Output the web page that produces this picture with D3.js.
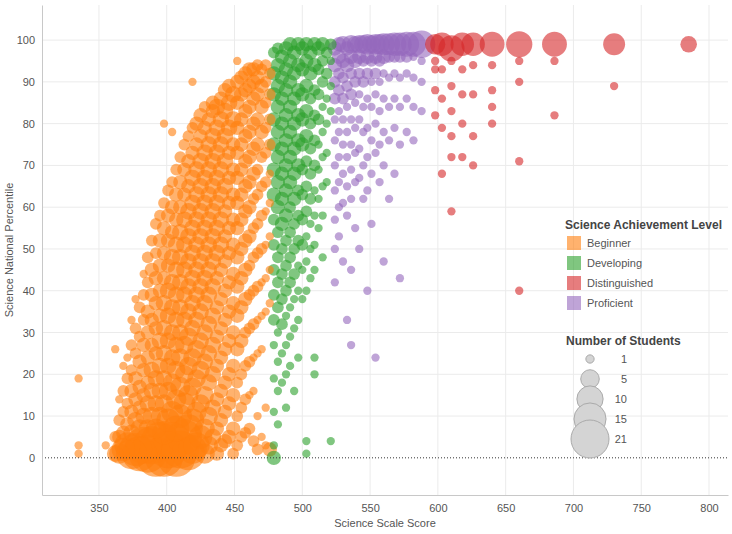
<!DOCTYPE html>
<html>
<head>
<meta charset="utf-8">
<script src="https://cdn.jsdelivr.net/npm/d3@7"></script>
<style>
  body { margin: 0; background: #fff; font-family: "Liberation Sans", Arial, sans-serif; }
</style>
</head>
<body>
<div id="chart"></div>
<script>
// data: "score|percentile:students ..."
var beginner = [
  "335|19:1 3:1 1:1", "355|3:1", "362|26:1 5:2 1:4",
  "365|14:1 9:2 5:3 1:6", "368|22:1 16:2 11:2 6:3 2:8", "371|24:1 19:2 13:2 8:3 3:10",
  "374|33:1 27:2 21:2 16:3 11:3 6:4 1:14", "377|38:1 31:2 25:2 19:3 14:3 9:4 2:16",
  "380|36:2 29:2 23:3 17:3 12:3 7:5 1:18", "383|44:1 39:2 33:2 27:3 21:3 15:3 10:4 3:20",
  "386|48:2 42:2 35:3 30:3 24:3 18:3 13:4 7:5 1:21",
  "389|52:2 45:3 39:3 33:3 27:3 21:4 16:4 10:5 3:21",
  "392|56:2 49:2 43:3 37:3 31:3 25:3 19:4 13:4 7:6 0:21",
  "395|58:2 52:3 46:3 40:3 34:3 28:4 22:4 16:4 10:5 4:21",
  "398|80:1 61:2 55:3 49:3 43:3 37:4 31:4 25:4 19:4 13:5 6:8 0:21",
  "401|64:2 58:3 52:3 46:3 40:4 34:4 28:4 22:4 16:5 9:8 2:21",
  "404|78:1 66:2 60:3 54:3 48:4 42:4 36:4 30:4 24:4 18:5 11:7 4:21",
  "407|69:2 63:3 57:3 51:4 45:4 39:4 33:4 27:4 21:5 14:6 7:10 0:21",
  "410|72:2 66:3 60:3 54:4 48:4 42:4 36:4 30:4 24:5 17:6 10:8 2:21",
  "413|75:2 69:3 63:3 57:4 51:4 45:4 39:4 33:4 27:5 20:5 13:7 5:18",
  "416|77:2 71:3 65:3 59:4 53:4 47:4 41:4 35:4 29:5 22:5 15:6 7:12 1:16",
  "419|90:1 79:2 73:3 67:4 61:4 55:4 49:4 43:4 37:4 31:4 24:5 17:5 9:8 2:12",
  "422|80:3 75:3 69:4 63:4 57:4 51:4 45:4 39:4 33:4 26:5 19:5 11:6 3:10",
  "425|82:3 77:3 71:4 65:4 59:4 53:4 47:4 41:4 35:4 28:4 21:5 13:5 5:8",
  "428|84:2 79:3 73:4 67:4 61:4 55:4 49:4 43:4 37:4 30:4 23:4 15:5 7:6 1:6",
  "431|81:3 75:4 69:4 63:4 57:4 51:4 45:4 39:4 32:4 25:4 18:4 10:5 3:5",
  "434|85:3 83:3 77:4 71:4 65:4 59:4 53:4 47:4 41:4 34:4 27:4 20:4 12:4 5:4",
  "437|84:4 79:4 73:4 67:4 61:4 55:4 49:4 43:3 36:3 29:3 22:3 14:3 7:3 1:3",
  "440|86:3 81:4 75:4 69:4 63:4 57:4 51:4 45:3 38:3 31:3 24:3 16:3 9:3 3:3",
  "443|88:3 83:4 77:4 71:4 65:4 59:3 53:3 47:3 40:3 33:3 26:3 18:3 11:3 4:3",
  "446|89:3 85:4 79:4 73:3 67:3 61:3 55:3 49:3 42:3 35:3 28:3 20:3 13:3 5:3",
  "449|87:4 81:4 75:3 69:3 63:3 57:3 51:3 44:3 37:3 30:3 22:3 15:3 7:3 1:2",
  "452|95:1 90:3 85:3 79:3 73:3 67:3 61:3 55:3 48:3 41:3 34:3 26:3 18:2 10:2 3:2",
  "455|91:3 87:3 81:3 75:3 69:3 63:3 57:3 50:3 43:3 36:3 28:3 20:2 12:2 5:2",
  "458|92:3 88:3 83:3 77:3 71:3 65:3 59:3 52:3 45:3 38:3 30:2 22:2 14:2 6:2",
  "461|93:3 89:3 84:3 78:3 72:3 66:3 60:3 53:3 46:2 39:2 31:2 23:2 15:1 7:2",
  "464|93:3 90:3 86:3 80:3 74:3 68:3 62:2 55:2 48:2 40:2 32:2 24:1 16:1 4:2",
  "467|94:2 91:3 87:3 81:3 75:3 69:2 63:2 56:2 49:2 41:2 33:1 25:1 10:1 2:2",
  "470|93:2 89:3 84:3 78:3 72:2 65:2 58:2 50:2 42:1 34:1 26:1 5:1",
  "473|94:2 90:2 85:2 79:2 73:2 66:2 59:1 51:1 43:1 35:1 12:1 3:1",
  "476|92:2 87:2 81:2 75:2 68:1 61:1 53:1 45:1 37:1 2:3"
];
var developing = [
  "479|97:2 92:3 87:3 81:3 75:3 69:3 63:3 57:2 51:2 45:2 39:2 33:2 27:1 19:1 11:1 3:1 0:3",
  "482|98:2 94:3 89:3 84:3 78:3 72:3 66:3 60:3 54:2 48:2 42:2 36:2 30:1 23:1 16:1 8:1",
  "485|96:3 91:3 86:3 80:3 74:3 68:3 62:3 56:3 50:2 44:2 38:2 32:2 25:1 18:1",
  "488|98:3 93:3 88:3 82:3 76:3 70:3 64:3 58:3 52:2 46:2 40:2 34:1 27:1 20:1 12:1",
  "491|99:3 95:3 90:3 84:3 78:3 72:3 66:3 60:2 54:2 48:2 42:2 36:1 29:1 22:1",
  "494|97:3 92:3 86:3 80:3 74:3 68:3 62:3 56:2 50:2 44:2 38:1 31:1 16:1",
  "497|99:3 94:3 88:3 82:3 76:3 70:3 64:2 58:2 52:2 46:1 40:1 33:1 24:1",
  "500|98:3 93:3 87:3 81:3 75:3 69:2 63:2 57:2 51:2 45:1 38:1",
  "503|99:3 95:3 89:3 83:3 77:3 71:2 65:2 59:2 53:1 47:1 40:1 4:1 1:1",
  "506|97:3 92:3 86:2 80:2 74:2 68:2 62:2 56:1 50:1 43:1",
  "509|99:3 94:3 88:2 82:2 76:2 70:2 64:1 58:1 51:1 45:1 24:1 20:1",
  "512|98:3 93:2 87:2 81:2 75:1 69:1 62:1 55:1",
  "515|99:3 95:2 90:2 84:1 78:1 72:1 65:1 58:1 48:1",
  "518|97:2 92:2 86:1 80:1 73:1 66:1",
  "521|99:2 95:1 89:1 83:1 4:1"
];
var proficient = [
  "524|98:3 94:3 90:2 86:2 81:1 76:1 70:1 64:1 57:1 50:1 42:1",
  "527|99:3 96:3 92:2 88:2 83:1 78:1 72:1 66:1 60:1 53:1",
  "530|99:4 95:3 91:2 86:2 81:1 75:1 68:1 61:1 47:1",
  "533|98:3 94:3 89:2 84:1 78:1 72:1 65:1 58:1 33:1",
  "536|99:5 96:3 92:2 87:2 81:1 75:1 69:1 62:1 45:1 27:1",
  "539|99:4 95:3 90:2 85:1 79:1 73:1 66:1 55:1",
  "542|99:5 96:3 92:2 87:1 81:1 74:1 67:1 50:1",
  "545|99:5 95:2 90:2 84:1 78:1 70:1 62:1",
  "548|99:6 96:3 92:2 86:1 79:1 72:1 64:1 40:1",
  "551|99:5 95:2 90:1 84:1 76:1 68:1 56:1",
  "554|99:6 96:3 92:2 87:1 80:1 73:1 24:1",
  "557|99:6 95:2 90:1 83:1 75:1 66:1",
  "560|99:7 96:3 92:1 86:1 78:1 70:1 47:1",
  "564|99:7 96:2 91:1 84:1 76:1 62:1",
  "568|99:8 96:2 92:1 86:1 79:1 68:1",
  "572|99:8 96:2 91:1 84:1 75:1 43:1",
  "577|99:9 96:2 92:1 86:1 78:1",
  "582|99:9 96:1 91:1 84:1 76:1",
  "588|99:11 95:1 90:1 83:1"
];
var distinguished = [
  "598|99:6 95:1 93:1 88:1 82:1", "603|99:8 93:1 86:1 79:1 68:1",
  "610|98:10 95:1 89:1 83:1 77:1 72:1 59:1", "618|99:8 93:1 87:1 80:1 72:1",
  "626|99:8 94:1 87:1 77:1 70:1", "640|99:9 94:1 88:1 84:1 80:1",
  "660|99:10 95:1 90:1 71:1 40:1", "686|99:9 95:1 82:1", "730|99:7 89:1", "785|99:4"
];
var levels = ["Beginner", "Developing", "Distinguished", "Proficient"];
var levelColors = ["#ff7f0e", "#2ca02c", "#d62728", "#9467bd"];
var xTicks = [350, 400, 450, 500, 550, 600, 650, 700, 750, 800];
var yTicks = [0, 10, 20, 30, 40, 50, 60, 70, 80, 90, 100];
var sizeLegend = [1, 5, 10, 15, 21];

function parse(rows, level) {
  var out = [];
  rows.forEach(function(r) {
    var p = r.split("|"), x = +p[0];
    p[1].split(" ").forEach(function(s) {
      var q = s.split(":");
      out.push({ score: x, pct: +q[0], n: +q[1], level: level });
    });
  });
  return out;
}

function init() {
  var points = [].concat(parse(beginner, "Beginner"), parse(developing, "Developing"),
    parse(distinguished, "Distinguished"), parse(proficient, "Proficient"));
  points.sort(function(a, b) { return b.n - a.n; });

  var w = 732, h = 534;
  var pLeft = 42, pRight = 728, pTop = 5, pBottom = 495;

  var x = d3.scaleLinear().domain([308, 814]).range([pLeft, pRight]);
  var y = d3.scaleLinear().domain([-8.9, 108.4]).range([pBottom, pTop]);
  var r = d3.scaleSqrt().domain([0, 21]).range([0, 19]);
  var color = d3.scaleOrdinal().domain(levels).range(levelColors);

  var svg = d3.select("#chart").append("svg").attr("width", w).attr("height", h);

  // grid
  svg.append("g").selectAll("line").data(xTicks).enter().append("line")
    .attr("x1", d => x(d)).attr("x2", d => x(d)).attr("y1", pTop).attr("y2", pBottom)
    .attr("stroke", "#ebebeb");
  svg.append("g").selectAll("line").data(yTicks).enter().append("line")
    .attr("x1", pLeft).attr("x2", pRight).attr("y1", d => y(d)).attr("y2", d => y(d))
    .attr("stroke", d => d === 0 ? "none" : "#ebebeb");

  // points
  svg.append("g").selectAll("circle").data(points).enter().append("circle")
    .attr("cx", d => x(d.score)).attr("cy", d => y(d.pct)).attr("r", d => r(d.n))
    .attr("fill", d => color(d.level)).attr("fill-opacity", 0.6);

  // zero line
  svg.append("line").attr("x1", pLeft).attr("x2", pRight).attr("y1", y(0)).attr("y2", y(0))
    .attr("stroke", "#333").attr("stroke-dasharray", "1,2");

  // axes
  var xAxis = svg.append("g").attr("transform", "translate(0," + pBottom + ")")
    .call(d3.axisBottom(x).tickValues(xTicks).tickSize(0).tickPadding(9));
  var yAxis = svg.append("g").attr("transform", "translate(" + pLeft + ",0)")
    .call(d3.axisLeft(y).tickValues(yTicks).tickSize(0).tickPadding(7));
  [xAxis, yAxis].forEach(function(a) {
    a.select(".domain").attr("stroke", "#c8c8c8");
    a.selectAll("text").attr("fill", "#555").style("font-size", "11px")
      .style("font-family", "Liberation Sans, Arial, sans-serif");
  });

  svg.append("text").attr("x", (pLeft + pRight) / 2).attr("y", 527).attr("text-anchor", "middle")
    .attr("fill", "#555").style("font-size", "11px").text("Science Scale Score");
  svg.append("text").attr("transform", "translate(13," + (pTop + pBottom) / 2 + ") rotate(-90)")
    .attr("text-anchor", "middle").attr("fill", "#555").style("font-size", "11px")
    .text("Science National Percentile");

  // colour legend
  var lg = svg.append("g").attr("transform", "translate(565,229)");
  lg.append("text").attr("fill", "#444").style("font-size", "12px")
    .style("font-weight", "bold").text("Science Achievement Level");
  var items = lg.selectAll("g.item").data(levels).enter().append("g")
    .attr("transform", (d, i) => "translate(2," + (7 + i * 20) + ")");
  items.append("rect").attr("width", 14).attr("height", 14).attr("fill", d => color(d)).attr("opacity", 0.6);
  items.append("text").attr("x", 20).attr("y", 11).attr("fill", "#555").style("font-size", "11px").text(d => d);

  // size legend
  var sg = svg.append("g").attr("transform", "translate(566,345)");
  sg.append("text").attr("fill", "#444").style("font-size", "12px").style("font-weight", "bold")
    .text("Number of Students");
  var sItems = sg.selectAll("g.s").data(sizeLegend).enter().append("g")
    .attr("transform", (d, i) => "translate(0," + (14 + i * 20) + ")");
  sItems.append("circle").attr("cx", 24).attr("r", d => r(d))
    .attr("fill", "#d4d4d4").attr("stroke", "#aaa").attr("stroke-width", 1);
  sItems.append("text").attr("x", 61).attr("y", 4).attr("text-anchor", "end")
    .attr("fill", "#555").style("font-size", "11px").text(d => d);
}

window.onload = init;
</script>
</body>
</html>
